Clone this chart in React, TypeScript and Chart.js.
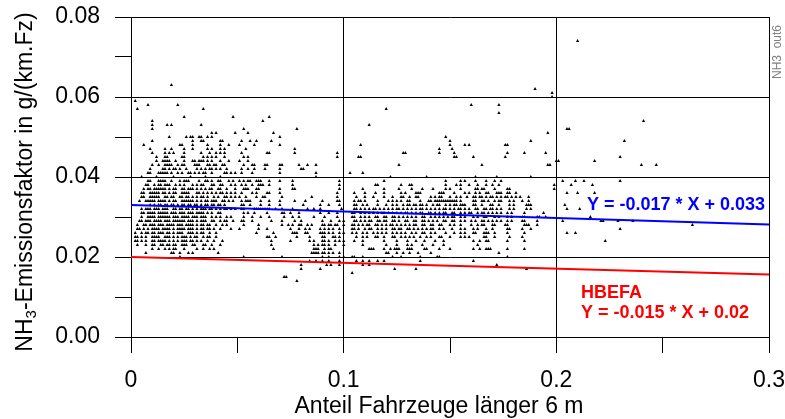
import React, { useEffect, useRef } from "react";
import { Chart, registerables } from "chart.js";

Chart.register(...registerables);

// ---- Data (x in 1/1000 of "Anteil", y rows in g/(km.Fz) * 1000) ----
const x_y14 = [78];
const x_y15 = [72, 73];
const x_y16 = [104];
const x_y17 = [80, 89, 124, 134, 186];
const x_y18 = [80, 92, 94, 98, 109, 112, 172];
const x_y19 = [84, 87, 90, 93, 98, 106, 109, 112, 116, 119, 136, 161];
const x_y20 = [23, 53, 71, 90, 93, 98, 100, 104, 105, 109, 123, 127, 136, 144, 145, 177];
const x_y21 = [7, 19, 20, 23, 27, 29, 41, 85, 86, 87, 88, 90, 91, 93, 95, 98, 120, 121, 125, 128, 131, 135, 141, 173];
const x_y22 = [10, 13, 16, 18, 20, 21, 25, 31, 34, 37, 39, 67, 86, 87, 88, 91, 93, 94, 112, 113, 114, 119, 122, 124, 125, 126, 130, 131, 132, 138, 139, 145, 150, 161, 164, 167, 168, 169, 177, 185];
const x_y23 = [3, 7, 10, 11, 14, 15, 17, 18, 20, 21, 24, 25, 26, 29, 30, 34, 35, 38, 42, 66, 86, 88, 90, 91, 93, 96, 100, 109, 120, 125, 130, 132, 137, 142, 147, 163];
const x_y24 = [2, 3, 5, 7, 10, 11, 13, 14, 15, 16, 18, 20, 22, 24, 25, 26, 28, 29, 31, 33, 36, 39, 43, 66, 75, 84, 86, 90, 91, 93, 96, 98, 100, 105, 109, 119, 125, 130, 134, 138, 143, 147, 161, 164, 167, 168, 177, 185, 223];
const x_y25 = [2, 3, 5, 7, 10, 11, 12, 13, 16, 17, 18, 20, 22, 24, 25, 26, 28, 30, 31, 34, 36, 37, 40, 64, 65, 68, 78, 84, 90, 91, 95, 96, 98, 106, 109, 111, 115, 116, 119, 123, 124, 127, 129, 131, 133, 136, 139, 141, 145, 146, 150, 155, 157, 159, 166, 167, 171, 178, 184];
const x_y26 = [2, 5, 7, 8, 10, 11, 13, 14, 15, 17, 18, 20, 22, 23, 24, 27, 28, 29, 31, 33, 34, 37, 40, 59, 67, 76, 77, 78, 82, 83, 89, 90, 91, 93, 95, 98, 100, 104, 106, 109, 111, 114, 116, 118, 120, 123, 125, 127, 129, 132, 134, 137, 138, 141, 143, 148, 152, 155, 157, 161, 162, 166, 167, 168, 171, 177, 185, 205, 209];
const x_y27 = [3, 4, 6, 8, 10, 11, 12, 13, 15, 16, 17, 18, 20, 22, 23, 24, 25, 27, 28, 29, 31, 33, 34, 36, 37, 39, 42, 47, 51, 60, 64, 75, 79, 82, 84, 89, 91, 93, 95, 98, 104, 105, 107, 110, 112, 113, 116, 118, 120, 123, 124, 126, 127, 130, 131, 133, 135, 137, 139, 141, 142, 145, 147, 151, 155, 157, 161, 163, 167, 170, 177, 178, 184, 188, 230];
const x_y28 = [3, 6, 7, 9, 10, 11, 13, 14, 15, 17, 18, 19, 20, 22, 23, 24, 26, 27, 28, 29, 31, 33, 34, 36, 37, 40, 43, 45, 53, 60, 71, 74, 76, 79, 80, 83, 85, 90, 91, 93, 94, 96, 97, 100, 104, 105, 107, 109, 111, 112, 115, 116, 118, 120, 122, 123, 125, 127, 129, 131, 133, 134, 137, 138, 141, 142, 145, 146, 150, 152, 155, 160, 163, 165, 166, 170, 171, 176, 177, 185, 186, 187, 191, 264];
const x_y29 = [4, 5, 7, 8, 9, 11, 12, 13, 14, 16, 17, 18, 20, 21, 22, 23, 24, 25, 27, 28, 29, 31, 33, 34, 35, 38, 39, 42, 44, 45, 48, 52, 53, 57, 66, 71, 77, 80, 90, 94, 98, 100, 105, 106, 108, 110, 112, 113, 116, 117, 119, 120, 123, 124, 126, 129, 130, 133, 134, 137, 138, 140, 142, 144, 147, 148, 151, 152, 155, 157, 160, 162, 165, 166, 168, 170, 172, 174, 177, 179, 184, 185, 191, 203, 221, 222, 229, 236];
const x_y30 = [5, 8, 9, 10, 11, 13, 14, 15, 16, 17, 18, 20, 21, 22, 24, 25, 26, 27, 29, 30, 31, 33, 34, 35, 38, 40, 42, 45, 47, 53, 57, 61, 65, 72, 76, 79, 86, 91, 97, 104, 105, 108, 110, 112, 115, 116, 119, 120, 123, 124, 126, 128, 130, 132, 134, 137, 138, 141, 143, 145, 147, 149, 151, 152, 155, 157, 161, 163, 166, 167, 171, 173, 177, 179, 184, 185, 191, 192, 195, 216];
const x_y31 = [5, 6, 8, 9, 10, 11, 13, 14, 15, 16, 17, 19, 20, 21, 23, 24, 25, 27, 28, 29, 31, 32, 33, 34, 36, 38, 41, 42, 53, 55, 58, 64, 71, 72, 75, 79, 89, 93, 97, 104, 105, 108, 110, 112, 114, 116, 118, 119, 121, 123, 125, 127, 129, 130, 132, 134, 136, 137, 140, 141, 143, 145, 147, 148, 151, 152, 155, 157, 159, 160, 163, 165, 166, 168, 170, 172, 174, 177, 179, 185, 194];
const x_y32 = [5, 7, 8, 9, 11, 12, 13, 15, 16, 17, 20, 21, 23, 24, 26, 27, 29, 31, 33, 34, 35, 37, 38, 40, 42, 44, 45, 47, 49, 52, 53, 58, 59, 60, 61, 62, 63, 64, 65, 68, 71, 76, 83, 86, 89, 99, 105, 106, 108, 110, 112, 114, 115, 117, 119, 121, 123, 125, 126, 128, 130, 132, 134, 136, 137, 139, 141, 143, 145, 147, 148, 150, 152, 154, 155, 157, 159, 162, 163, 166, 167, 169, 170, 172, 174, 178, 180, 186, 188, 205, 211];
const x_y33 = [9, 11, 13, 14, 16, 17, 19, 20, 22, 24, 25, 27, 28, 30, 31, 33, 35, 36, 38, 39, 41, 42, 44, 52, 53, 56, 61, 65, 70, 81, 89, 93, 98, 105, 106, 109, 111, 116, 120, 123, 125, 128, 130, 131, 133, 134, 136, 137, 139, 142, 144, 145, 148, 150, 152, 153, 155, 156, 157, 161, 162, 165, 169, 170, 173, 178, 180, 186, 187, 188, 204];
const x_y34 = [4, 7, 8, 9, 10, 11, 13, 14, 15, 16, 18, 20, 21, 24, 25, 26, 27, 28, 29, 31, 33, 35, 36, 38, 39, 40, 43, 44, 46, 48, 52, 54, 55, 56, 61, 65, 70, 77, 82, 90, 97, 98, 105, 107, 108, 110, 116, 121, 123, 125, 127, 130, 131, 136, 140, 141, 143, 144, 145, 146, 147, 148, 149, 150, 151, 152, 153, 155, 161, 162, 165, 166, 168, 171, 173, 174, 178, 180, 184, 187];
const x_y35 = [5, 6, 9, 10, 11, 12, 13, 16, 17, 19, 20, 23, 24, 26, 27, 29, 31, 33, 34, 36, 39, 41, 44, 45, 47, 49, 51, 54, 59, 62, 63, 71, 85, 97, 106, 110, 114, 119, 123, 127, 128, 131, 134, 135, 141, 143, 145, 146, 150, 153, 155, 158, 161, 162, 164, 165, 167, 169, 170, 172, 174, 176, 177, 179, 181, 183, 187];
const x_y36 = [5, 6, 9, 10, 11, 12, 13, 15, 16, 18, 20, 21, 24, 25, 26, 27, 31, 32, 34, 36, 38, 40, 42, 43, 45, 47, 49, 52, 57, 59, 64, 65, 70, 97, 105, 110, 115, 119, 127, 129, 134, 135, 136, 145, 146, 147, 152, 157, 159, 162, 164, 167, 168, 172, 173, 174, 177, 178, 181, 205, 210, 218];
const x_y37 = [6, 8, 9, 11, 12, 13, 14, 15, 16, 18, 20, 21, 24, 25, 27, 28, 29, 31, 33, 35, 37, 38, 41, 42, 45, 49, 53, 54, 55, 59, 60, 70, 76, 77, 98, 109, 119, 126, 132, 137, 142, 148, 150, 155, 162, 163, 165, 166, 171, 177, 178, 199];
const x_y38 = [7, 8, 11, 13, 14, 16, 17, 18, 21, 23, 25, 29, 31, 33, 34, 38, 39, 42, 43, 47, 49, 52, 54, 57, 60, 61, 62, 65, 76, 98, 115, 116, 127, 131, 132, 148, 153, 155, 159, 163, 167, 170, 173, 199, 207, 217];
const x_y39 = [8, 9, 13, 14, 15, 16, 19, 23, 25, 26, 27, 32, 35, 36, 38, 41, 42, 46, 48, 51, 53, 55, 56, 59, 60, 61, 65, 70, 76, 98, 119, 148, 155, 157, 162, 167, 171, 174, 203, 209, 213, 230];
const x_y40 = [5, 12, 20, 28, 35, 42, 87, 122, 139, 162, 172, 188];
const x_y41 = [8, 9, 13, 14, 15, 16, 17, 19, 22, 24, 27, 28, 30, 32, 34, 35, 38, 44, 45, 47, 49, 52, 57, 70, 87, 103, 109];
const x_y42 = [9, 15, 16, 18, 20, 21, 23, 26, 31, 33, 35, 37, 38, 40, 42, 45, 52, 55, 58, 63, 70, 80, 81];
const x_y43 = [10, 13, 16, 17, 18, 19, 22, 24, 25, 30, 31, 32, 36, 37, 39, 40, 43, 44, 53, 57, 58, 63, 64, 70, 71, 79, 83, 87, 126, 165, 196, 197, 240, 247];
const x_y44 = [12, 15, 16, 17, 18, 21, 25, 29, 30, 32, 33, 34, 36, 38, 42, 46, 51, 55, 200, 201, 218];
const x_y45 = [12, 16, 17, 24, 25, 34, 36, 38, 40, 44, 53, 55, 97, 107, 108, 152, 153, 161, 176, 230];
const x_y46 = [10, 16, 18, 20, 25, 33, 37, 40, 42, 44, 52, 64, 65, 77, 97, 128, 129, 145, 152, 177, 185, 195];
const x_y47 = [9, 16, 19, 25, 29, 36, 38, 42, 44, 54, 77, 145, 151];
const x_y48 = [6, 23, 24, 29, 36, 42, 46, 51, 58, 70, 108, 150, 157, 159, 176, 177];
const x_y49 = [10, 29, 33, 34, 42, 43, 52, 56, 59, 66, 150, 188, 232];
const x_y50 = [18, 26, 28, 29, 32, 33, 36, 38, 70, 148];
const x_y51 = [38, 40, 49, 55, 67, 196];
const x_y52 = [10, 53, 78, 205, 206];
const x_y53 = [10, 17, 19, 33, 112];
const x_y54 = [10, 62, 241];
const x_y55 = [25, 48, 65];
const x_y56 = [173];
const x_y57 = [3, 34, 120];
const x_y58 = [8, 22, 160, 173];
const x_y59 = [2];
const x_y60 = [198];
const x_y61 = [198];
const x_y62 = [190];
const x_y63 = [19];
const x_y74 = [210];

const rowLevels = [14, 15, 16, 17, 18, 19, 20, 21, 22, 23, 24, 25, 26, 27, 28, 29, 30, 31, 32, 33, 34, 35, 36, 37, 38, 39, 40, 41, 42, 43, 44, 45, 46, 47, 48, 49, 50, 51, 52, 53, 54, 55, 56, 57, 58, 59, 60, 61, 62, 63, 74];
const rowXs = [x_y14, x_y15, x_y16, x_y17, x_y18, x_y19, x_y20, x_y21, x_y22, x_y23, x_y24, x_y25, x_y26, x_y27, x_y28, x_y29, x_y30, x_y31, x_y32, x_y33, x_y34, x_y35, x_y36, x_y37, x_y38, x_y39, x_y40, x_y41, x_y42, x_y43, x_y44, x_y45, x_y46, x_y47, x_y48, x_y49, x_y50, x_y51, x_y52, x_y53, x_y54, x_y55, x_y56, x_y57, x_y58, x_y59, x_y60, x_y61, x_y62, x_y63, x_y74];

// Regression lines (endpoints at x = 0 and x = 0.3)
const lineX = [0, 0.3];
const fitMeasured = [0.033, 0.0281];
const fitHbefa = [0.02, 0.0156];

const xTickLabels = ["0", "0.1", "0.2", "0.3"];
const yTickLabels = ["0.00", "0.02", "0.04", "0.06", "0.08"];

const xTitle = "Anteil Fahrzeuge länger 6 m";
const yTitleMain = "NH";
const yTitleSub = "3";
const yTitleRest = "-Emissionsfaktor in g/(km.Fz)";
const eqMeasured = "Y = -0.017 * X + 0.033";
const hbefaLabel = "HBEFA";
const eqHbefa = "Y = -0.015 * X + 0.02";
const cornerTag = "NH3  out6";

const FONT = '"Liberation Sans", Arial, Helvetica, sans-serif';

const textPlugin = {
  id: "customTexts",
  afterDraw(chart: any) {
    const ctx = chart.ctx as CanvasRenderingContext2D;
    ctx.save();
    // x title
    ctx.fillStyle = "#000";
    ctx.font = `23px ${FONT}`;
    ctx.textAlign = "center";
    ctx.textBaseline = "alphabetic";
    ctx.fillText(xTitle, 439, 413);

    // y title (rotated, with subscript)
    ctx.save();
    ctx.translate(32, 182);
    ctx.rotate(-Math.PI / 2);
    ctx.textAlign = "left";
    ctx.font = `23px ${FONT}`;
    const w1 = ctx.measureText(yTitleMain).width;
    const w3 = ctx.measureText(yTitleRest).width;
    ctx.font = `15px ${FONT}`;
    const w2 = ctx.measureText(yTitleSub).width;
    const total = w1 + w2 + w3;
    const x0 = -total / 2;
    ctx.font = `23px ${FONT}`;
    ctx.fillText(yTitleMain, x0, 0);
    ctx.font = `15px ${FONT}`;
    ctx.fillText(yTitleSub, x0 + w1, 4);
    ctx.font = `23px ${FONT}`;
    ctx.fillText(yTitleRest, x0 + w1 + w2, 0);
    ctx.restore();

    // equations
    ctx.textAlign = "left";
    ctx.font = `bold 18px ${FONT}`;
    ctx.fillStyle = "#0000ff";
    ctx.fillText(eqMeasured, 587, 210);
    ctx.fillStyle = "#ff0000";
    ctx.fillText(hbefaLabel, 581, 298);
    ctx.fillText(eqHbefa, 581, 318);

    // corner tag
    ctx.save();
    ctx.translate(781, 79);
    ctx.rotate(-Math.PI / 2);
    ctx.font = `12px ${FONT}`;
    ctx.fillStyle = "#808080";
    ctx.textAlign = "left";
    ctx.fillText(cornerTag, 0, 0);
    ctx.restore();

    ctx.restore();
  },
};

export default function App() {
  const canvasRef = useRef<HTMLCanvasElement | null>(null);

  useEffect(() => {
    if (!canvasRef.current) return;
    const points: { x: number; y: number }[] = [];
    rowLevels.forEach((lvl, i) => {
      rowXs[i].forEach((xv) => points.push({ x: xv / 1000, y: lvl / 1000 }));
    });

    const isMajorX = (v: number) => Math.round(v * 20) % 2 === 0;
    const isMajorY = (v: number) => Math.round(v * 100) % 2 === 0;

    const chart = new Chart(canvasRef.current, {
      type: "scatter",
      data: {
        datasets: [
          {
            label: "fit",
            data: lineX.map((x, i) => ({ x, y: fitMeasured[i] })),
            showLine: true,
            borderColor: "#0000ff",
            borderWidth: 2,
            pointRadius: 0,
          },
          {
            label: "HBEFA",
            data: lineX.map((x, i) => ({ x, y: fitHbefa[i] })),
            showLine: true,
            borderColor: "#ff0000",
            borderWidth: 2,
            pointRadius: 0,
          },
          {
            label: "points",
            data: points,
            pointStyle: "triangle",
            pointRadius: 1.9,
            pointBackgroundColor: "#000",
            pointBorderColor: "#000",
            pointBorderWidth: 0,
          },
        ],
      } as any,
      options: {
        responsive: false,
        animation: false,
        devicePixelRatio: 1,
        layout: { padding: { top: 17, right: 16, left: 0, bottom: 0 } },
        plugins: { legend: { display: false }, tooltip: { enabled: false } },
        events: [],
        scales: {
          x: {
            type: "linear",
            min: 0,
            max: 0.3,
            afterFit: (s: any) => {
              s.height = 82;
              s.paddingLeft = 0;
              s.paddingRight = 0;
              s.paddingTop = 0;
              s.paddingBottom = 0;
            },
            ticks: {
              stepSize: 0.05,
              autoSkip: false,
              maxRotation: 0,
              padding: 14,
              color: "#000",
              font: { family: FONT, size: 23 },
              callback: (v: any) => {
                const k = Math.round(Number(v) * 20);
                return k % 2 === 0 ? xTickLabels[k / 2] : "";
              },
            },
            grid: {
              color: (c: any) => (isMajorX(c.tick.value) ? "#000" : "rgba(0,0,0,0)"),
              tickColor: "#000",
              tickLength: 16,
              lineWidth: 1,
            },
            border: { display: true, color: "#000", width: 1 },
          },
          y: {
            type: "linear",
            min: 0,
            max: 0.08,
            afterFit: (s: any) => {
              s.width = 131;
              s.paddingLeft = 0;
              s.paddingRight = 0;
              s.paddingTop = 0;
              s.paddingBottom = 0;
            },
            ticks: {
              stepSize: 0.01,
              autoSkip: false,
              padding: 15,
              color: "#000",
              font: { family: FONT, size: 23 },
              callback: (v: any) => {
                const k = Math.round(Number(v) * 100);
                return k % 2 === 0 ? yTickLabels[k / 2] : "";
              },
            },
            grid: {
              color: (c: any) => (isMajorY(c.tick.value) ? "#000" : "rgba(0,0,0,0)"),
              tickColor: "#000",
              tickLength: 16,
              lineWidth: 1,
            },
            border: { display: true, color: "#000", width: 1 },
          },
        },
      } as any,
      plugins: [textPlugin],
    });
    return () => chart.destroy();
  }, []);

  return (
    <div style={{ position: "fixed", left: 0, top: 0, width: 785, height: 419, background: "#fff" }}>
      <canvas ref={canvasRef} width={785} height={419} style={{ display: "block" }} />
    </div>
  );
}
